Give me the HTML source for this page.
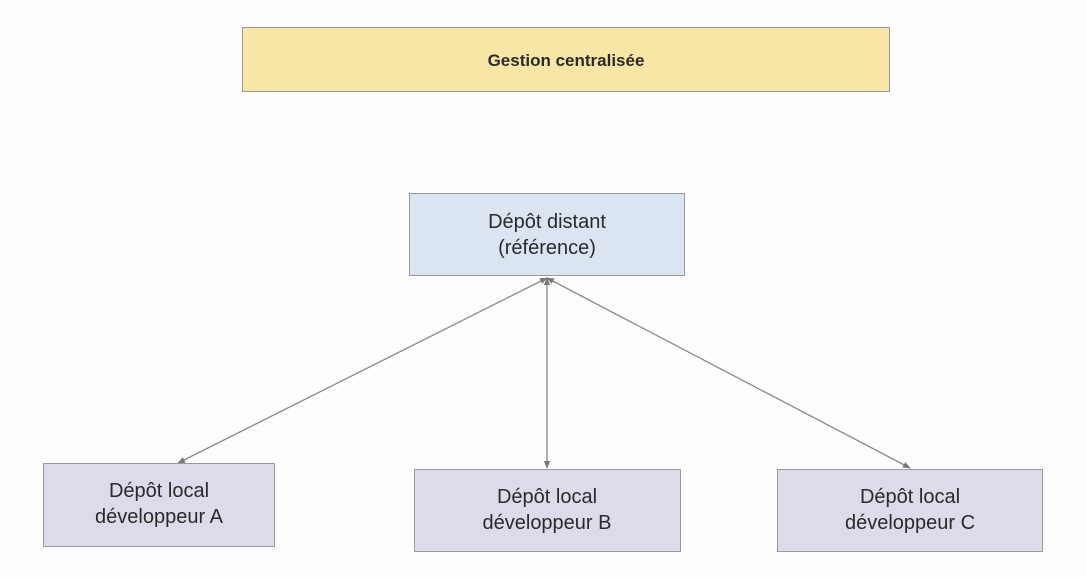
<!DOCTYPE html>
<html><head><meta charset="utf-8"><style>
html,body{margin:0;padding:0;background:#fdfdfd;}
svg{display:block;}
text{font-family:"Liberation Sans",sans-serif;fill:#2a2a2a;}
</style></head><body>
<svg width="1087" height="577" viewBox="0 0 1087 577">
<defs>
<marker id="ah" viewBox="0 0 10 10" refX="9" refY="5" markerWidth="6" markerHeight="6" orient="auto-start-reverse">
<path d="M0,1 L10,5 L0,9 z" fill="#777"/>
</marker>
</defs>
<rect x="242.5" y="27.5" width="647" height="64" fill="#f8e6a6" stroke="#999" stroke-width="1"/>
<text x="566" y="66" font-size="17" font-weight="bold" text-anchor="middle" fill="#111">Gestion centralisée</text>

<rect x="409.5" y="193.5" width="275" height="82" fill="#dbe5f2" stroke="#999"/>
<text x="547" y="228" font-size="20" text-anchor="middle">Dépôt distant</text>
<text x="547" y="254" font-size="20" text-anchor="middle">(référence)</text>

<g stroke="#888" stroke-width="1.3" fill="none">
<line x1="547" y1="278" x2="178" y2="463" marker-start="url(#ah)" marker-end="url(#ah)"/>
<line x1="547" y1="278" x2="547" y2="468" marker-start="url(#ah)" marker-end="url(#ah)"/>
<line x1="547" y1="278" x2="910" y2="468" marker-start="url(#ah)" marker-end="url(#ah)"/>
</g>

<rect x="43.5" y="463.5" width="231" height="83" fill="#dcdbe9" stroke="#999"/>
<text x="159" y="497" font-size="20" text-anchor="middle">Dépôt local</text>
<text x="159" y="523" font-size="20" text-anchor="middle">développeur A</text>

<rect x="414.5" y="469.5" width="266" height="82" fill="#dcdbe9" stroke="#999"/>
<text x="547" y="503" font-size="20" text-anchor="middle">Dépôt local</text>
<text x="547" y="529" font-size="20" text-anchor="middle">développeur B</text>

<rect x="777.5" y="469.5" width="265" height="82" fill="#dcdbe9" stroke="#999"/>
<text x="910" y="503" font-size="20" text-anchor="middle">Dépôt local</text>
<text x="910" y="529" font-size="20" text-anchor="middle">développeur C</text>
</svg>
</body></html>
